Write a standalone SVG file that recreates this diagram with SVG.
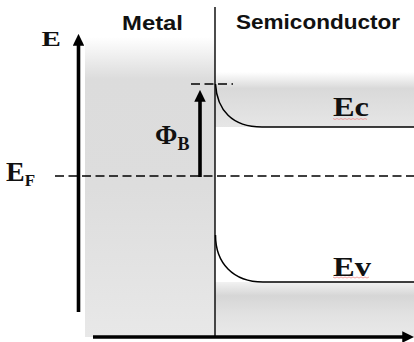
<svg xmlns="http://www.w3.org/2000/svg" width="414" height="342" viewBox="0 0 414 342">
  <defs>
    <linearGradient id="gMetal" x1="0" y1="0" x2="0" y2="1">
      <stop offset="0" stop-color="#ffffff"/>
      <stop offset="0.14" stop-color="#dcdcdc"/>
      <stop offset="0.5" stop-color="#dddddd"/>
      <stop offset="1" stop-color="#e8e8e8"/>
    </linearGradient>
    <linearGradient id="gEc" x1="0" y1="0" x2="0" y2="1">
      <stop offset="0" stop-color="#ffffff"/>
      <stop offset="0.3" stop-color="#d9d9d9"/>
      <stop offset="1" stop-color="#e6e6e6"/>
    </linearGradient>
    <linearGradient id="gEv" x1="0" y1="0" x2="0" y2="1">
      <stop offset="0" stop-color="#f2f2f2"/>
      <stop offset="0.25" stop-color="#d6d6d6"/>
      <stop offset="0.6" stop-color="#e2e2e2"/>
      <stop offset="1" stop-color="#e9e9e9"/>
    </linearGradient>
    <marker id="ah" markerWidth="3.3" markerHeight="3.2" refX="0.2" refY="1.6" orient="auto" markerUnits="strokeWidth">
      <path d="M0,0 L3.3,1.6 L0,3.2 Z" fill="#000"/>
    </marker>
  </defs>
  <style>
    .sans{font-family:"Liberation Sans",Arial,sans-serif;font-weight:bold;fill:#111}
    .ser{font-family:"Liberation Serif","Times New Roman",serif;font-weight:bold;fill:#111}
    .dash{stroke:#000;stroke-width:1.5;stroke-dasharray:9 4.5;fill:none}
    .band{stroke:#000;stroke-width:1.5;fill:none}
    .axis{stroke:#000;stroke-width:3.6;fill:none}
    .sq{stroke:#f08c8c;stroke-width:1;fill:none;opacity:0.8}
  </style>

  <g id="metal">
    <rect x="85" y="37" width="130" height="300" fill="url(#gMetal)"/>
    <text class="sans" x="122" y="29.5" font-size="20" textLength="61" lengthAdjust="spacingAndGlyphs">Metal</text>
  </g>

  <g id="semiconductor">
    <rect x="215" y="72" width="199" height="55" fill="url(#gEc)"/>
    <rect x="215" y="282" width="199" height="55" fill="url(#gEv)"/>
    <text class="sans" x="236" y="29" font-size="20" textLength="164" lengthAdjust="spacingAndGlyphs">Semiconductor</text>
  </g>

  <g id="conduction-band">
    <path class="band" d="M215.5,84 C217,110 232,127 262,127 L414,127"/>
    <text class="ser" x="333" y="116" font-size="28" textLength="36" lengthAdjust="spacingAndGlyphs">Ec</text>
    <path class="sq" d="M333,118.5 l2,1 l2,-1 l2,1 l2,-1 l2,1 l2,-1 l2,1 l2,-1 l2,1 l2,-1 l2,1 l2,-1 l2,1 l2,-1 l2,1 l2,-1 l2,1"/>
  </g>

  <g id="valence-band">
    <path class="band" d="M215.5,235 C215.5,263 233,282 263,282 L414,282"/>
    <text class="ser" x="333" y="275.5" font-size="28" textLength="38" lengthAdjust="spacingAndGlyphs">Ev</text>
    <path class="sq" d="M333,277 l2,1 l2,-1 l2,1 l2,-1 l2,1 l2,-1 l2,1 l2,-1 l2,1 l2,-1 l2,1 l2,-1 l2,1 l2,-1 l2,1 l2,-1 l2,1 l2,-1"/>
  </g>

  <g id="fermi-level">
    <text class="ser" x="6" y="180.5" font-size="28">E<tspan font-size="17" dy="5">F</tspan></text>
  </g>

  <g id="barrier-label">
    <text class="ser" x="155" y="143.5" font-size="27">Φ<tspan font-size="18" dy="6">B</tspan></text>
  </g>

  <g id="energy-label">
    <text class="ser" x="0" y="0" font-size="20" transform="translate(41.5,45.5) scale(1.45,1)">E</text>
  </g>

  <g id="connectors">
    <line x1="215" y1="7" x2="215" y2="336" stroke="#000" stroke-width="1.4"/>
    <line class="dash" x1="55" y1="176" x2="414" y2="176"/>
    <line class="dash" x1="191" y1="84" x2="233" y2="84"/>
    <line class="axis" x1="78.5" y1="312" x2="78.5" y2="45" marker-end="url(#ah)"/>
    <line class="axis" x1="93" y1="337" x2="403" y2="337" marker-end="url(#ah)"/>
    <line class="axis" x1="200" y1="177" x2="200" y2="101" marker-end="url(#ah)"/>
  </g>
</svg>
